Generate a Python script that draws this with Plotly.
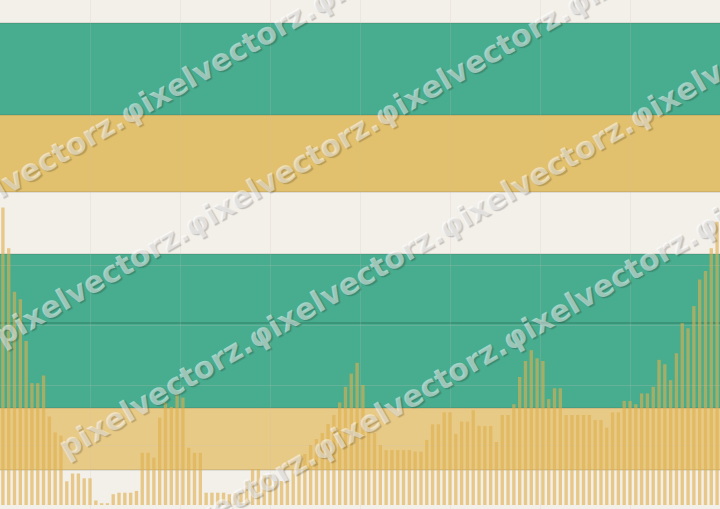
import math
import plotly.graph_objects as go

# ---------------- data ----------------
values = [
    99.2, 85.6, 71.1, 68.6, 54.7, 40.6, 40.6, 43.2, 29.5, 24.2,
    23.1, 7.9, 10.5, 10.5, 8.9, 8.9, 1.5, 0.6, 0.6, 3.6,
    4.1, 4.1, 4.1, 4.7, 17.4, 17.4, 15.8, 29.1, 34.1, 32.7,
    36.9, 35.8, 19.1, 17.4, 17.4, 4.1, 4.1, 4.1, 4.1, 3.6,
    4.0, 4.0, 8.0, 12.0, 12.0, 10.0, 10.0, 8.0, 8.0, 8.0,
    12.0, 14.0, 17.0, 20.0, 22.0, 24.0, 27.0, 30.0, 34.2, 39.4,
    43.8, 47.4, 40.0, 28.0, 24.0, 20.0, 18.3, 18.3, 18.3, 18.3,
    18.3, 17.8, 17.8, 21.7, 26.9, 26.9, 30.9, 30.9, 23.7, 27.8,
    27.8, 31.6, 26.4, 26.3, 26.3, 21.0, 30.0, 30.0, 33.6, 42.7,
    48.0, 51.6, 48.9, 48.0, 35.3, 38.9, 38.9, 30.0, 30.0, 30.0,
    30.0, 30.0, 28.3, 28.3, 25.8, 30.9, 30.9, 34.7, 34.7, 33.6,
    37.2, 37.2, 39.4, 48.4, 46.9, 41.6, 50.6, 60.6, 58.9, 66.3,
    75.2, 78.0, 85.6, 94.4,
]
positions = list(range(len(values)))

# background bands (value ranges) and their colours
band_lows = [11.67, 32.33, 83.67, 104.33, 130.0]
band_highs = [32.33, 83.67, 104.33, 130.0, 160.67]
band_colors = ["#E8CA87", "#48AC8E", "#F3F0EA", "#E2C16E", "#48AC8E"]
separator_value = 60.67
grid_values = [20, 40, 60, 80]

watermark_text = "pixelvectorz.φixelvectorz.φixelvectorz.φixelvectorz."
watermark_starts = [(-68, 226), (-4, 338), (60, 450), (124, 562)]  # pixel start of each row

W, H = 720, 509
BG = "#F3F0EA"

fig = go.Figure()
fig.add_trace(go.Bar(
    x=positions, y=values,
    marker=dict(color="rgba(222,176,78,0.62)", line=dict(width=0)),
    width=0.58,
    hoverinfo="skip",
))

shapes = []
for lo, hi, col in zip(band_lows, band_highs, band_colors):
    shapes.append(dict(type="rect", xref="paper", yref="y", x0=0, x1=1, y0=lo, y1=hi,
                       fillcolor=col, line=dict(width=0), layer="below"))
edge_values = sorted(set(band_lows + band_highs))
for v in edge_values:
    shapes.append(dict(type="line", xref="paper", yref="y", x0=0, x1=1, y0=v, y1=v,
                       line=dict(color="rgba(60,60,40,0.22)", width=1), layer="below"))
shapes.append(dict(type="line", xref="paper", yref="y", x0=0, x1=1,
                   y0=separator_value, y1=separator_value,
                   line=dict(color="rgba(20,70,50,0.45)", width=1), layer="below"))

# watermark rows
FS = 30
em_len = 29.3
L = em_len * FS
ang = math.radians(30)
annotations = []
for sx, sy in watermark_starts:
    cx = sx + L / 2 * math.cos(ang)
    cy = sy - L / 2 * math.sin(ang)
    annotations.append(dict(
        text=watermark_text, xref="paper", yref="paper",
        x=cx / W, y=1 - cy / H, xanchor="center", yanchor="middle",
        textangle=-30, showarrow=False,
        font=dict(family="DejaVu Sans", size=FS, weight="bold",
                  color="rgba(255,255,255,0.5)",
                  shadow="1px 2px 1px rgba(0,0,0,0.38)"),
    ))

fig.update_layout(
    width=W, height=H,
    margin=dict(l=0, r=0, t=0, b=0),
    paper_bgcolor=BG, plot_bgcolor=BG,
    showlegend=False,
    shapes=shapes,
    annotations=annotations,
    bargap=0.42,
    hovermode=False,
    xaxis=dict(range=[-0.5, len(values) - 0.5], tick0=-0.5, dtick=len(values) / 8,
               showgrid=True, gridcolor="rgba(200,195,185,0.18)", gridwidth=1,
               showticklabels=False, zeroline=False, showline=False, ticks=""),
    yaxis=dict(range=[-4 / 3, 505 / 3], tickvals=grid_values,
               showgrid=True, gridcolor="rgba(200,195,185,0.22)", gridwidth=1,
               showticklabels=False, zeroline=False, showline=False, ticks=""),
)

fig.write_html("out.html",
               config={"displayModeBar": False, "staticPlot": True},
               post_script="document.body.style.margin='0';document.body.style.overflow='hidden';")
